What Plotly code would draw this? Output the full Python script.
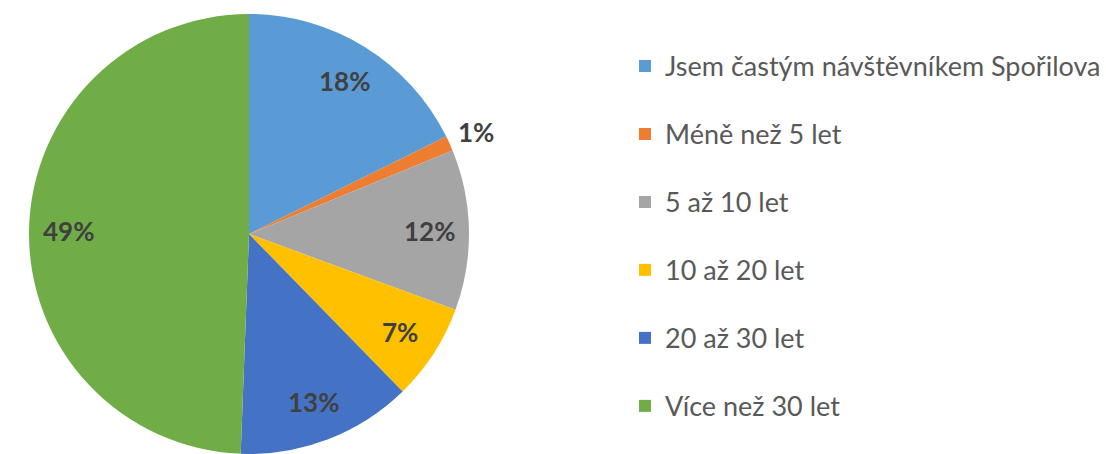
import math
import plotly.graph_objects as go

categories = ["Jsem častým návštěvníkem Spořilova", "Méně než 5 let", "5 až 10 let",
              "10 až 20 let", "20 až 30 let", "Více než 30 let"]
values = [17.7, 1.1, 11.8, 7.1, 12.9, 49.4]
colors = ["#5B9BD5", "#ED7D31", "#A5A5A5", "#FFC000", "#4472C4", "#70AD47"]
label_outside = [False, True, False, False, False, False]

W, H = 1106, 454
# pie placement (pixels)
CX, CY, R = 249, 234, 220

fig = go.Figure(go.Pie(
    labels=["<span style='font-size:27px'>" + c + "</span><br> " for c in categories],
    values=values,
    sort=False,
    direction="clockwise",
    rotation=0,
    marker=dict(colors=colors, line=dict(width=0)),
    textinfo="none",
    domain=dict(x=[(CX - R) / W, (CX + R) / W], y=[(H - CY - R) / H, (H - CY + R) / H]),
    hovertemplate="%{label}: %{percent}<extra></extra>",
))

# percentage labels placed at slice mid-angles (derived from values)
total = sum(values)
cum = 0.0
annotations = []
for v, outside in zip(values, label_outside):
    mid = (cum + v / 2) / total * 2 * math.pi
    cum += v
    rr = R * (1.13 if outside else 0.82)
    px = CX + rr * math.sin(mid)
    py = CY - rr * math.cos(mid)
    annotations.append(dict(
        x=px / W, y=1 - py / H, xref="paper", yref="paper",
        text="<b>%d%%</b>" % round(v / total * 100),
        showarrow=False, xanchor="center", yanchor="middle",
        font=dict(family="Lato", size=26, color="#404040"),
    ))

fig.update_layout(
    width=W, height=H,
    margin=dict(l=0, r=0, t=0, b=0, pad=0, autoexpand=False),
    paper_bgcolor="white",
    plot_bgcolor="white",
    showlegend=True,
    annotations=annotations,
    legend=dict(
        x=625 / W, y=0.905, xanchor="left", yanchor="top",
        font=dict(family="Lato", size=25, color="#595959"),
        valign="top",
        itemclick=False,
    ),
)

fig.write_html("out.html", config={"displayModeBar": False},
               post_script="document.body.style.margin='0';")
